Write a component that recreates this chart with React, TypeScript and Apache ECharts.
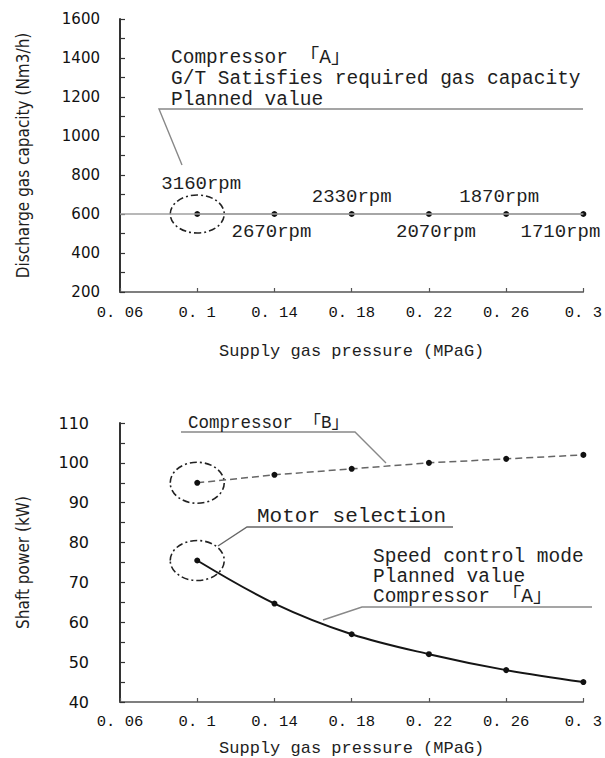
import React, { useEffect, useRef } from "react";
import * as echarts from "echarts";

// ---- data ----
const pressures = [0.1, 0.14, 0.18, 0.22, 0.26, 0.3];
const dischargeCapacity = [600, 600, 600, 600, 600, 600];
const speedLabels = ["3160rpm", "2670rpm", "2330rpm", "2070rpm", "1870rpm", "1710rpm"];
const powerB = [95, 97, 98.5, 100, 101, 102];
const powerA = [75.5, 64.7, 57, 52, 48, 45];
const xTickValues = [0.06, 0.1, 0.14, 0.18, 0.22, 0.26, 0.3];
const plannedCapacity = 600;

const xTitle = "Supply gas pressure (MPaG)";
const yTitleTop = "Discharge gas capacity (Nm3/h)";
const yTitleBottom = "Shaft power (kW)";
const noteTop = ["Compressor 「A」", "G/T Satisfies required gas capacity", "Planned value"];
const noteB = "Compressor 「B」";
const noteMotor = "Motor selection";
const noteA = ["Speed control mode", "Planned value", "Compressor 「A」"];

const MONO = '"Liberation Mono", "Noto Sans CJK JP", monospace';
const SANS = '"DejaVu Sans", sans-serif';
const COND = '"DejaVu Sans Condensed", "DejaVu Sans", sans-serif';
const INK = "#1e1e1e";

function fmtX(v: number) {
  return String(+v.toFixed(2)).replace(".", ". ");
}

function xAxisDef(gridIndex: number, labelMargin: number, nameGap: number) {
  return {
    type: "value",
    gridIndex,
    min: 0.06,
    max: 0.3,
    splitLine: { show: false },
    axisLine: { show: true, lineStyle: { color: "#555", width: 1.5 } },
    axisTick: { show: true, inside: true, length: 4, customValues: xTickValues, lineStyle: { color: "#555", width: 1.2 } },
    axisLabel: {
      customValues: xTickValues,
      formatter: (v: number) => fmtX(v),
      fontFamily: MONO,
      fontSize: 15.5,
      color: "#111",
      margin: labelMargin,
    },
    name: xTitle,
    nameLocation: "middle",
    nameGap,
    nameTextStyle: { fontFamily: MONO, fontSize: 17, color: INK },
  };
}

function yAxisDef(gridIndex: number, min: number, max: number, interval: number, name: string, labelMargin: number, fontSize: number) {
  return {
    type: "value",
    gridIndex,
    min,
    max,
    interval,
    splitLine: { show: false },
    axisLine: { show: true, lineStyle: { color: "#333", width: 2 } },
    axisTick: { show: true, inside: true, length: 5, lineStyle: { color: "#333", width: 1.2 } },
    minorTick: { show: true, splitNumber: 2, length: 5, lineStyle: { color: "#333", width: 1.2 } },
    axisLabel: { fontFamily: SANS, fontSize, color: "#111", margin: labelMargin, formatter: (v: number) => String(v) },
    name,
    nameLocation: "middle",
    nameRotate: 90,
    nameGap: 89,
    nameTextStyle: { fontFamily: COND, fontSize: 17, color: INK },
  };
}

export default function App() {
  const ref = useRef<HTMLDivElement>(null);

  useEffect(() => {
    document.body.style.margin = "0";
    if (!ref.current) return;
    const chart = echarts.init(ref.current, null, { renderer: "svg" });

    const labelOffsets = [[4, 0], [-3, 0], [0, 0], [7, 0], [-7, 0], [-23, 0]];
    const labelDist = [18, 5, 5, 5, 5, 5];

    chart.setOption({
      animation: false,
      backgroundColor: "#fff",
      grid: [
        { left: 120, top: 19, width: 469, height: 273 },
        { left: 120, top: 423, width: 471, height: 280 },
      ],
      xAxis: [xAxisDef(0, 13, 51), xAxisDef(1, 12, 38)],
      yAxis: [
        yAxisDef(0, 200, 1600, 200, yTitleTop, 20, 15),
        yAxisDef(1, 40, 110, 10, yTitleBottom, 31, 16),
      ],
      series: [
        {
          type: "line",
          xAxisIndex: 0,
          yAxisIndex: 0,
          data: pressures.map((p, i) => ({
            value: [p, dischargeCapacity[i]],
            label: {
              position: i % 2 === 0 ? "top" : "bottom",
              distance: labelDist[i],
              offset: labelOffsets[i],
            },
          })),
          symbol: "circle",
          symbolSize: 6,
          itemStyle: { color: "#111" },
          lineStyle: { color: "#a0a0a0", width: 1.5 },
          label: {
            show: true,
            formatter: (p: any) => speedLabels[p.dataIndex],
            fontFamily: MONO,
            fontSize: 19,
            color: INK,
          },
          markLine: {
            silent: true,
            symbol: "none",
            label: { show: false },
            lineStyle: { color: "#a0a0a0", width: 1.5, type: "solid" },
            data: [{ yAxis: plannedCapacity }],
          },
        },
        {
          type: "line",
          xAxisIndex: 1,
          yAxisIndex: 1,
          data: pressures.map((p, i) => [p, powerB[i]]),
          symbol: "circle",
          symbolSize: 6,
          itemStyle: { color: "#111" },
          lineStyle: { color: "#666", width: 1.5, type: [7, 4] },
        },
        {
          type: "line",
          xAxisIndex: 1,
          yAxisIndex: 1,
          smooth: 0.35,
          data: pressures.map((p, i) => [p, powerA[i]]),
          symbol: "circle",
          symbolSize: 6,
          itemStyle: { color: "#111" },
          lineStyle: { color: "#151515", width: 2 },
        },
      ],
    });

    const cTop = chart.convertToPixel({ gridIndex: 0 }, [pressures[0], dischargeCapacity[0]]) as number[];
    const cB = chart.convertToPixel({ gridIndex: 1 }, [pressures[0], powerB[0]]) as number[];
    const cA = chart.convertToPixel({ gridIndex: 1 }, [pressures[0], powerA[0]]) as number[];

    const dash = [7, 3, 2, 3];
    const ellipseStyle = { fill: "none", stroke: "#222", lineWidth: 1.6, lineDash: dash };
    const leader = { fill: "none", stroke: "#888", lineWidth: 1.4 };

    chart.setOption({
      graphic: [
        { type: "ellipse", shape: { cx: cTop[0], cy: cTop[1], rx: 27, ry: 19 }, style: ellipseStyle, silent: true },
        { type: "ellipse", shape: { cx: cB[0], cy: cB[1], rx: 27, ry: 20.5 }, style: ellipseStyle, silent: true },
        { type: "ellipse", shape: { cx: cA[0], cy: cA[1], rx: 27, ry: 20 }, style: ellipseStyle, silent: true },
        { type: "polyline", shape: { points: [[182, 165], [159, 109], [583, 109]] }, style: leader, silent: true },
        { type: "polyline", shape: { points: [[181, 432], [355, 432], [386, 463]] }, style: leader, silent: true },
        { type: "polyline", shape: { points: [[218, 546], [247, 527], [453, 527]] }, style: { ...leader, stroke: "#666" }, silent: true },
        { type: "polyline", shape: { points: [[323, 620], [362, 607], [592, 607]] }, style: leader, silent: true },
        {
          type: "text", x: 171, y: 47, silent: true,
          style: { text: noteTop.join("\n"), fontFamily: MONO, fontSize: 19.5, lineHeight: 21, fill: INK, align: "left", verticalAlign: "top" },
        },
        {
          type: "text", x: 188, y: 423, silent: true,
          style: { text: noteB, fontFamily: MONO, fontSize: 17.5, fill: INK, align: "left", verticalAlign: "middle" },
        },
        {
          type: "text", x: 257, y: 516, silent: true,
          style: { text: noteMotor, fontFamily: MONO, fontSize: 21, fill: INK, align: "left", verticalAlign: "middle" },
        },
        {
          type: "text", x: 373, y: 547, silent: true,
          style: { text: noteA.join("\n"), fontFamily: MONO, fontSize: 19.5, lineHeight: 20, fill: INK, align: "left", verticalAlign: "top" },
        },
      ],
    });

    return () => chart.dispose();
  }, []);

  return <div ref={ref} style={{ width: 605, height: 758 }} />;
}
